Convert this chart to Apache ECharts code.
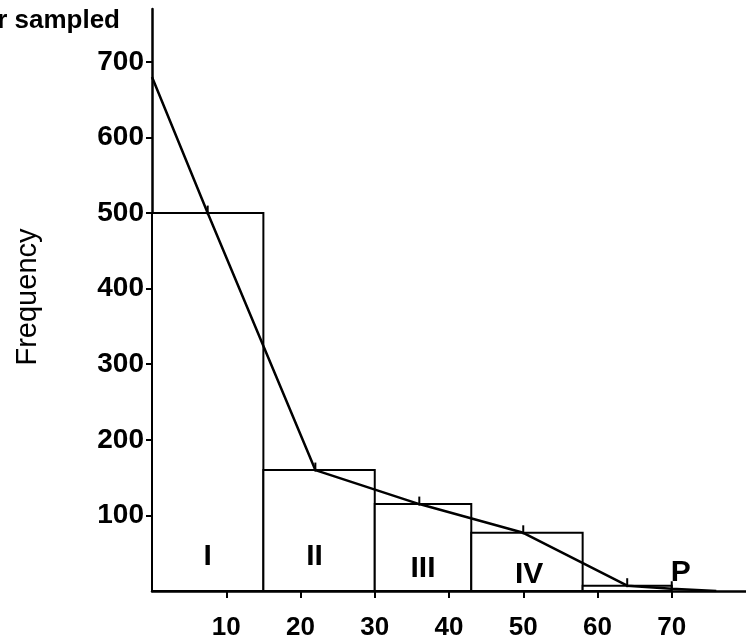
<!DOCTYPE html>
<html><head><meta charset="utf-8">
<script src="https://cdn.jsdelivr.net/npm/echarts@6/dist/echarts.min.js"></script>
<style>html,body{margin:0;padding:0;background:#fff}#c{width:746px;height:644px}</style>
</head><body><div id="c"></div>
<script>
// class bins: [start, end, frequency]
const classNames = ['I', 'II', 'III', 'IV', 'P'];
const binStart = [0, 15, 30, 43, 58];
const binEnd = [15, 30, 43, 58, 70];
const binFreq = [500, 160, 115, 77, 7];
// frequency polygon
const polyX = [0, 7.5, 22, 36, 50, 64, 70, 76];
const polyY = [680, 500, 160, 115, 77, 7, 3, 0];
// class label anchor points (data coords)
const labelX = [7.5, 21.9, 36.5, 50.8, 71.2];
const labelY = [45, 45, 30, 21, 24];
const xTicks = [10, 20, 30, 40, 50, 60, 70];
const yTicks = [100, 200, 300, 400, 500, 600, 700];

const font = 'Liberation Sans, Arial, sans-serif';
const chart = echarts.init(document.getElementById('c'), null, {renderer: 'canvas'});
const bars = binStart.map((s, i) => [s, binEnd[i], binFreq[i]]);
const poly = polyX.map((x, i) => ({value: [x, polyY[i]], symbolSize: (i === 0 || i === polyX.length - 1) ? 0 : [2, 9]}));
const labs = labelX.map((x, i) => [x, labelY[i], classNames[i]]);

chart.setOption({
  animation: false,
  grid: {left: 152, right: 0, top: 9, bottom: 53, containLabel: false},
  xAxis: {
    type: 'value', min: 0, max: 80, interval: 10,
    axisLine: {show: true, lineStyle: {color: '#000', width: 2.5}},
    axisTick: {show: true, length: 7, customValues: xTicks, lineStyle: {color: '#000', width: 2}},
    splitLine: {show: false},
    axisLabel: {color: '#000', fontSize: 26, fontWeight: 'bold', fontFamily: font, margin: 24, customValues: xTicks,
      formatter: v => String(v)}
  },
  yAxis: {
    type: 'value', min: 0, max: 770, interval: 100,
    axisLine: {show: true, lineStyle: {color: '#000', width: 2.5}},
    axisTick: {show: true, length: 6, customValues: yTicks, lineStyle: {color: '#000', width: 2}},
    splitLine: {show: false},
    axisLabel: {color: '#000', fontSize: 28, fontWeight: 'bold', fontFamily: font, margin: 8, customValues: yTicks,
      formatter: v => String(v)}
  },
  graphic: [
    {type: 'text', x: 28, y: 297, rotation: Math.PI / 2,
      style: {text: 'Frequency', fill: '#000', fontSize: 29, fontFamily: font, align: 'center', verticalAlign: 'middle', textAlign: 'center', textVerticalAlign: 'middle'}},
    {type: 'text', x: 120, y: 21,
      style: {text: 'Number sampled', fill: '#000', fontSize: 26, fontWeight: 'bold', fontFamily: font, align: 'right', verticalAlign: 'middle', textAlign: 'right', textVerticalAlign: 'middle'}}
  ],
  series: [
    {
      type: 'custom', data: bars, z: 2,
      renderItem: (params, api) => {
        const p0 = api.coord([api.value(0), api.value(2)]);
        const p1 = api.coord([api.value(1), 0]);
        return {type: 'rect', shape: {x: p0[0], y: p0[1], width: p1[0] - p0[0], height: p1[1] - p0[1]},
          style: {fill: '#fff', stroke: '#000', lineWidth: 2}};
      }
    },
    {
      type: 'line', data: poly, z: 3,
      lineStyle: {color: '#000', width: 2.5},
      symbol: 'rect', symbolOffset: [0, -3],
      itemStyle: {color: '#000'}, showSymbol: true
    },
    {
      type: 'scatter', data: labs, z: 4, symbolSize: 0,
      itemStyle: {color: '#000', opacity: 1},
      label: {show: true, position: 'inside', formatter: p => p.data[2], color: '#000', opacity: 1, fontSize: 30, fontWeight: 'bold', fontFamily: font}
    }
  ]
});
</script></body></html>
